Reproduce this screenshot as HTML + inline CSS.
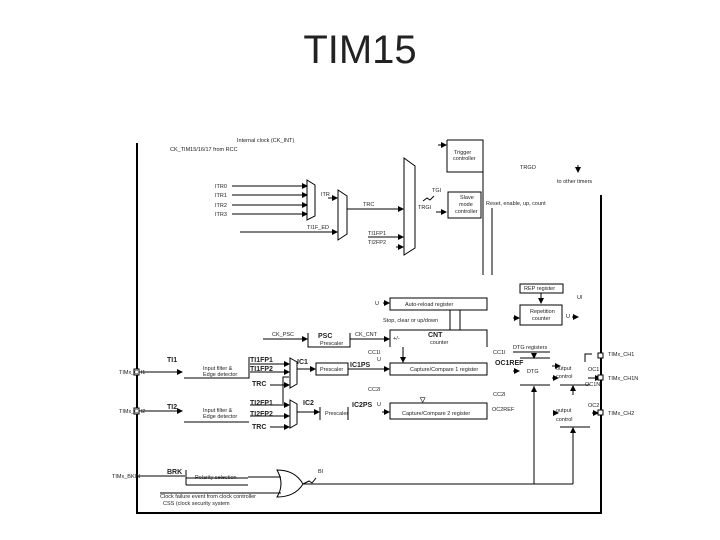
<!DOCTYPE html>
<html><head><style>
html,body{margin:0;padding:0;background:#fff;width:720px;height:540px;overflow:hidden}
text{font-family:"Liberation Sans",sans-serif;fill:#222}
.s{font-size:5.5px}
.m{font-size:7px;font-weight:bold}
</style></head><body>
<svg width="720" height="540" viewBox="0 0 720 540" xmlns="http://www.w3.org/2000/svg">
<defs><marker id="a" markerWidth="6" markerHeight="6" refX="5" refY="3" orient="auto" markerUnits="userSpaceOnUse"><path d="M0,0L6,3L0,6z" fill="#000"/></marker></defs>
<text x="360" y="63" font-size="40" text-anchor="middle" style="font-family:'Liberation Sans',sans-serif" fill="#000">TIM15</text>
<g stroke="#000" fill="none" stroke-width="1">
<path d="M137,143V513H601V195" stroke-width="2"/>
<!-- trigger controller -->
<path d="M447,140H483V275M447,140V172H483"/>
<line x1="438" y1="145" x2="446" y2="145" marker-end="url(#a)"/>
<line x1="578" y1="165" x2="578" y2="172" marker-end="url(#a)"/>
<rect x="448" y="192" width="33" height="26"/>
<line x1="436" y1="212" x2="446" y2="212" marker-end="url(#a)"/>
<path d="M423,201l4,-3l3,2l4,-4" />
<line x1="492" y1="208" x2="492" y2="275"/>
<!-- ITR -->
<line x1="232" y1="186" x2="307" y2="186" marker-end="url(#a)"/>
<line x1="232" y1="195" x2="307" y2="195" marker-end="url(#a)"/>
<line x1="232" y1="205" x2="307" y2="205" marker-end="url(#a)"/>
<line x1="232" y1="214" x2="307" y2="214" marker-end="url(#a)"/>
<path d="M307,180L315,185V216L307,220Z"/>
<line x1="328" y1="198" x2="337" y2="198" marker-end="url(#a)"/>
<path d="M338,190L347,196V234L338,240Z"/>
<line x1="347" y1="209" x2="403" y2="209" marker-end="url(#a)"/>
<line x1="240" y1="232" x2="337" y2="232" marker-end="url(#a)"/>
<path d="M404,158L415,166V248L404,255Z"/>
<line x1="368" y1="237" x2="403" y2="237" marker-end="url(#a)"/>
<line x1="396" y1="247" x2="403" y2="247" marker-end="url(#a)"/>
<!-- ARR -->
<rect x="390" y="298" width="97" height="12"/>
<line x1="383" y1="303" x2="389" y2="303" marker-end="url(#a)"/>
<path d="M450,310V330M460,310V330"/>
<rect x="520" y="284" width="43" height="9"/>
<line x1="541" y1="293" x2="541" y2="303" marker-end="url(#a)"/>
<rect x="520" y="305" width="42" height="20"/>
<line x1="513" y1="318" x2="519" y2="318" marker-end="url(#a)"/>
<line x1="572" y1="317" x2="578" y2="317" marker-end="url(#a)"/>
<!-- PSC CNT -->
<line x1="263" y1="339" x2="307" y2="339" marker-end="url(#a)"/>
<path d="M308,333V347H350V333"/>
<line x1="350" y1="339" x2="389" y2="339" marker-end="url(#a)"/>
<path d="M390,347V330H487V347"/>
<line x1="403" y1="347" x2="403" y2="362" marker-end="url(#a)"/>
<!-- CC1 -->
<rect x="390" y="363" width="97" height="12"/>
<rect x="316" y="363" width="32" height="12"/>
<path d="M290,358L297,362V384L290,388Z"/>
<line x1="297" y1="369" x2="315" y2="369" marker-end="url(#a)"/>
<line x1="348" y1="369" x2="389" y2="369" marker-end="url(#a)"/>
<line x1="250" y1="364" x2="289" y2="364" marker-end="url(#a)"/>
<line x1="250" y1="372" x2="289" y2="372" marker-end="url(#a)"/>
<line x1="270" y1="385" x2="289" y2="385" marker-end="url(#a)"/>
<path d="M283,404V377H289" />
<path d="M184,378H249V357"/>
<line x1="138" y1="372" x2="182" y2="372" marker-end="url(#a)"/>
<!-- CC2 -->
<rect x="390" y="403" width="97" height="16"/>
<path d="M320,407V420M348,407V420"/>
<path d="M290,400L297,404V424L290,428Z"/>
<line x1="297" y1="412" x2="319" y2="412" marker-end="url(#a)"/>
<line x1="382" y1="412" x2="389" y2="412" marker-end="url(#a)"/>
<line x1="250" y1="405" x2="289" y2="405" marker-end="url(#a)"/>
<line x1="250" y1="416" x2="289" y2="416" marker-end="url(#a)"/>
<line x1="270" y1="427" x2="289" y2="427" marker-end="url(#a)"/>
<path d="M184,422H249"/>
<line x1="138" y1="411" x2="182" y2="411" marker-end="url(#a)"/>
<!-- DTG / output -->
<line x1="513" y1="352" x2="550" y2="352"/>
<line x1="534" y1="353" x2="534" y2="358" marker-end="url(#a)"/>
<path d="M520,358H550M520,385H550"/>
<line x1="513" y1="371" x2="519" y2="371" marker-end="url(#a)"/>
<line x1="552" y1="366" x2="560" y2="366" marker-end="url(#a)"/>
<line x1="552" y1="378" x2="558" y2="378" marker-end="url(#a)"/>
<path d="M560,385H590"/>
<line x1="588" y1="378" x2="600" y2="378" marker-end="url(#a)"/>
<path d="M585,362V354l7,0"/>
<line x1="573" y1="395" x2="573" y2="386" marker-end="url(#a)"/>
<line x1="553" y1="413" x2="558" y2="413" marker-end="url(#a)"/>
<path d="M560,427H590"/>
<line x1="592" y1="413" x2="598" y2="413" marker-end="url(#a)"/>
<path d="M534,484V386M573,484V428M303,484H573"/>
<line x1="534" y1="395" x2="534" y2="387" marker-end="url(#a)"/>
<line x1="573" y1="436" x2="573" y2="428" marker-end="url(#a)"/>
<!-- BRK -->
<path d="M137,476H185M186,470V485M186,478H248M186,485H248"/>
<path d="M277,470Q295,470 303,484Q295,497 277,497Q285,484 277,470Z"/>
<path d="M248,477H281M160,493H281"/>
<path d="M303,484l6,-3l3,2l4,-5"/>
</g>
<g fill="#fff" stroke="#000">
<rect x="134" y="369" width="5" height="6"/><rect x="134" y="408" width="5" height="6"/>
<rect x="598" y="353" width="5" height="5"/><rect x="598" y="375" width="5" height="5"/><rect x="598" y="410" width="5" height="5"/>
</g>
<g class="s">
<text x="237" y="142">Internal clock (CK_INT)</text>
<text x="170" y="151">CK_TIM15/16/17 from RCC</text>
<text x="454" y="154">Trigger</text><text x="453" y="160">controller</text>
<text x="520" y="169">TRGO</text>
<text x="557" y="183">to other timers</text>
<text x="460" y="199">Slave</text><text x="459" y="206">mode</text><text x="455" y="213">controller</text>
<text x="486" y="205">Reset, enable, up, count</text>
<text x="432" y="192">TGI</text><text x="418" y="209">TRGI</text>
<text x="215" y="188">ITR0</text><text x="215" y="197">ITR1</text><text x="215" y="207">ITR2</text><text x="215" y="216">ITR3</text>
<text x="321" y="196">ITR</text><text x="363" y="206">TRC</text>
<text x="307" y="229">TI1F_ED</text>
<text x="368" y="235">TI1FP1</text><text x="368" y="244">TI2FP2</text>
<text x="405" y="306">Auto-reload register</text>
<text x="375" y="305">U</text>
<text x="524" y="290">REP register</text>
<text x="530" y="313">Repetition</text><text x="532" y="320">counter</text>
<text x="577" y="299">UI</text><text x="566" y="318">U</text>
<text x="383" y="322">Stop, clear or up/down</text>
<text x="272" y="336">CK_PSC</text><text x="355" y="336">CK_CNT</text>
<text x="320" y="345">Prescaler</text>
<text x="393" y="340">+/-</text><text x="430" y="344">counter</text>
<text x="410" y="371">Capture/Compare 1 register</text>
<text x="320" y="371">Prescaler</text>
<text x="368" y="354">CC1I</text><text x="377" y="361">U</text>
<text x="203" y="370">Input filter &amp;</text><text x="203" y="376">Edge detector</text>
<text x="203" y="412">Input filter &amp;</text><text x="203" y="418">Edge detector</text>
<text x="325" y="415">Prescaler</text>
<text x="368" y="391">CC2I</text><text x="377" y="406">U</text>
<text x="402" y="415">Capture/Compare 2 register</text>
<text x="493" y="354">CC1I</text><text x="493" y="396">CC2I</text>
<text x="492" y="411">OC2REF</text>
<text x="513" y="349">DTG registers</text>
<text x="527" y="373">DTG</text>
<text x="556" y="370">output</text><text x="556" y="378">control</text>
<text x="556" y="412">output</text><text x="556" y="421">control</text>
<text x="588" y="371">OC1</text><text x="585" y="386">OC1N</text><text x="588" y="407">OC2</text>
<text x="608" y="356">TIMx_CH1</text><text x="608" y="380">TIMx_CH1N</text><text x="608" y="415">TIMx_CH2</text>
<text x="119" y="374">TIMx_CH1</text><text x="119" y="413">TIMx_CH2</text><text x="112" y="478">TIMx_BKIN</text>
<text x="195" y="479">Polarity selection</text>
<text x="160" y="498">Clock failure event from clock controller</text>
<text x="163" y="505">CSS (clock security system</text>
<text x="318" y="473">BI</text>
</g>
<g class="m">
<text x="167" y="362">TI1</text><text x="167" y="409">TI2</text>
<text x="250" y="362">TI1FP1</text><text x="250" y="371">TI1FP2</text><text x="252" y="386">TRC</text>
<text x="250" y="405">TI2FP1</text><text x="250" y="416">TI2FP2</text><text x="252" y="429">TRC</text>
<text x="297" y="364">IC1</text><text x="303" y="405">IC2</text>
<text x="350" y="367">IC1PS</text><text x="352" y="407">IC2PS</text>
<text x="318" y="338">PSC</text><text x="428" y="337">CNT</text>
<text x="495" y="365">OC1REF</text>
<text x="167" y="474">BRK</text>
<text x="420" y="402">▽</text>
</g>
</svg>
</body></html>
